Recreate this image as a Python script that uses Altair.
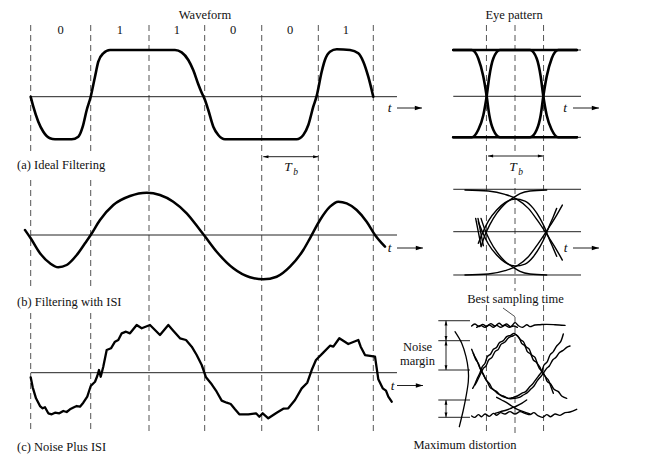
import altair as alt
import pandas as pd

# ---------------- data: time in bit periods (Tb), amplitude in signal levels ----------------
bits = ["0", "1", "1", "0", "0", "1"]
bit_edges = [0.0, 1.051, 2.072, 3.047, 4.046, 5.037, 6.0]

# (a) ideal filtering
wave_a_t = [0, 0.046, 0.133, 0.221, 0.338, 0.426, 0.718, 0.834, 0.911, 0.981, 1.051, 1.126, 1.184,
            1.271, 1.389, 2.527, 2.644, 2.760, 2.848, 2.930, 2.991, 3.047, 3.110, 3.198, 3.285, 3.403,
            4.658, 4.774, 4.862, 4.949, 5.005, 5.096, 5.153, 5.241, 5.359, 5.592, 5.737, 5.825, 5.912, 6.0]
wave_a_v = [0, -0.227, -0.568, -0.795, -0.945, -0.968, -0.968, -0.909, -0.682, -0.302, 0, 0.455, 0.795,
            0.986, 1.061, 1.061, 1.009, 0.834, 0.60, 0.30, 0.10, -0.06, -0.302, -0.682, -0.870, -0.968,
            -0.968, -0.870, -0.643, -0.227, 0, 0.568, 0.834, 1.023, 1.077, 1.061, 0.986, 0.795, 0.455, 0]

# (b) filtering with ISI
wave_b_t = [-0.100, 0, 0.163, 0.338, 0.483, 0.630, 0.806, 0.951, 1.051, 1.214, 1.447, 1.739, 2.032,
            2.264, 2.497, 2.732, 2.965, 3.047, 3.257, 3.548, 3.840, 4.074, 4.308, 4.541, 4.774, 4.891,
            5.067, 5.242, 5.387, 5.534, 5.709, 5.884, 6.030, 6.205]
wave_b_v = [0.114, -0.075, -0.416, -0.643, -0.734, -0.682, -0.455, -0.189, 0, 0.341, 0.682, 0.886, 0.961,
            0.909, 0.757, 0.493, 0.114, -0.023, -0.380, -0.757, -0.961, -1.007, -0.948, -0.720, -0.341,
            -0.075, 0.341, 0.643, 0.757, 0.720, 0.568, 0.302, 0, -0.266]

# (c) noise plus ISI
wave_c_t = [0, 0.035, 0.093, 0.163, 0.210, 0.250, 0.308, 0.368, 0.426, 0.501,
            0.571, 0.630, 0.688, 0.758, 0.806, 0.863, 0.921, 0.991, 1.051, 1.126,
            1.166, 1.196, 1.226, 1.271, 1.331, 1.406, 1.476, 1.534, 1.594, 1.669,
            1.739, 1.856, 1.944, 2.089, 2.264, 2.410, 2.497, 2.615, 2.720, 2.820,
            2.907, 2.995, 3.070, 3.170, 3.257, 3.345, 3.433, 3.503, 3.578, 3.653,
            3.811, 3.946, 4.004, 4.063, 4.161, 4.308, 4.424, 4.511, 4.629, 4.746,
            4.844, 4.921, 4.996, 5.124, 5.242, 5.300, 5.405, 5.562, 5.737, 5.779,
            5.855, 6.030, 6.088, 6.165, 6.222, 6.263, 6.322]
wave_c_v = [-0.105, -0.332, -0.582, -0.757, -0.809, -0.786, -0.923, -0.945, -0.909, -0.923,
            -0.870, -0.893, -0.832, -0.786, -0.757, -0.773, -0.682, -0.545, -0.302, -0.205,
            -0.075, 0.061, -0.091, 0.136, 0.516, 0.555, 0.705, 0.743, 0.895, 0.932,
            0.895, 1.084, 1.009, 1.084, 0.857, 1.084, 0.955, 0.782, 0.743, 0.591,
            0.402, 0.175, -0.105, -0.264, -0.432, -0.636, -0.682, -0.711, -0.832, -0.945,
            -0.945, -0.923, -1.0, -0.923, -1.036, -0.909, -0.818, -0.809, -0.620, -0.355,
            -0.227, 0.061, 0.289, 0.455, 0.614, 0.591, 0.782, 0.652, 0.743, 0.591,
            0.402, 0.364, -0.150, -0.355, -0.409, -0.545, -0.659]

# eye patterns: u = time from eye centre (Tb), amplitude
eye_span = [-1.081, 1.156]
eye_a_levels = [1.052, 0.0, -0.932]
eye_a_traces = {
    "flat_hi": ([-1.081, 1.083], [1.052, 1.052]),
    "flat_lo": ([-1.081, 1.083], [-0.932, -0.932]),
    "101": ([-1.081, -0.758, -0.643, -0.555, -0.496, -0.450, -0.380, -0.263, 0.263, 0.380, 0.450, 0.496, 0.555, 0.643, 0.758, 1.083],
            [1.052, 1.052, 0.86, 0.45, 0.0, -0.43, -0.76, -0.932, -0.932, -0.76, -0.43, 0.0, 0.45, 0.86, 1.052, 1.052]),
    "010": ([-1.081, -0.758, -0.643, -0.555, -0.496, -0.450, -0.380, -0.263, 0.263, 0.380, 0.450, 0.496, 0.555, 0.643, 0.758, 1.083],
            [-0.932, -0.932, -0.76, -0.43, 0.0, 0.45, 0.86, 1.052, 1.052, 0.86, 0.45, 0.0, -0.43, -0.76, -0.932, -0.932]),
}

eye_b_levels = [0.964, 0.0, -0.984]
eye_b_traces = {
    "U1": ([-0.876, -0.467, -0.175, 0.029, 0.234, 0.409, 0.584, 0.730, 0.829],
           [0.947, 0.924, 0.848, 0.742, 0.530, 0.227, -0.114, -0.417, -0.644]),
    "U2": ([-0.595, -0.525, -0.438, -0.321, -0.187, -0.029, 0.088, 0.263, 0.555],
           [-0.341, -0.076, 0.167, 0.417, 0.621, 0.773, 0.864, 0.924, 0.947]),
    "U3": ([-0.642, -0.572, -0.467, -0.321, -0.175, 0, 0.175, 0.321, 0.438, 0.525, 0.595, 0.671, 0.730],
           [-0.265, -0.038, 0.242, 0.492, 0.659, 0.742, 0.697, 0.530, 0.303, 0.076, -0.152, -0.379, -0.56]),
    "L1": ([-0.876, -0.467, -0.175, 0.029, 0.234, 0.409, 0.584, 0.730, 0.829],
           [-0.985, -0.962, -0.886, -0.780, -0.568, -0.265, 0.076, 0.379, 0.606]),
    "L2": ([-0.595, -0.525, -0.438, -0.321, -0.187, -0.029, 0.088, 0.263, 0.555],
           [0.303, 0.038, -0.205, -0.455, -0.659, -0.811, -0.902, -0.962, -0.985]),
    "L3": ([-0.642, -0.572, -0.467, -0.321, -0.175, 0, 0.175, 0.321, 0.438, 0.525, 0.595, 0.671, 0.730],
           [0.227, 0.0, -0.280, -0.530, -0.697, -0.780, -0.735, -0.568, -0.341, -0.114, 0.114, 0.341, 0.53]),
    "S1": ([-0.689, -0.595], [0.303, -0.318]),
    "S2": ([-0.648, -0.555], [0.303, -0.318]),
}

eye_c_traces = {
    "top1": ([-0.759, -0.701, -0.630, -0.566, -0.496, -0.426, -0.350, -0.280, -0.216, -0.146, -0.076, 0, 0.058,
              0.134, 0.204, 0.263, 0.350, 0.438, 0.555, 0.701, 0.876],
             [1.0, 1.045, 0.985, 1.038, 0.992, 1.053, 1.0, 1.061, 1.008, 1.045, 0.985, 1.076, 1.008,
              0.970, 1.030, 0.985, 1.023, 1.030, 1.038, 1.030, 1.015]),
    "top2": ([-0.671, -0.601, -0.525, -0.450, -0.379, -0.321, -0.251, -0.175, -0.099, -0.029, 0.041],
             [0.970, 1.015, 0.970, 1.023, 0.970, 1.015, 0.970, 1.015, 0.970, 1.0, 0.970]),
    "bot1": ([-0.759, -0.701, -0.642, -0.584, -0.525, -0.450, -0.379, -0.321, -0.251, -0.175, -0.088, 0, 0.088,
              0.175, 0.263, 0.333, 0.409, 0.485, 0.555, 0.625, 0.701, 0.788, 0.876, 0.963, 1.080],
             [-1.045, -1.076, -1.015, -1.061, -1.0, -1.053, -0.985, -1.030, -0.970, -1.0, -0.947, -1.0, -0.947,
              -0.985, -1.015, -0.970, -1.045, -1.076, -1.015, -1.061, -1.0, -1.030, -0.970, -0.955, -0.894]),
    "C1": ([-0.741, -0.701, -0.660, -0.613, -0.572, -0.525, -0.485, -0.426, -0.379, -0.321, -0.274, -0.204, -0.146,
            -0.076, -0.018, 0.041, 0.088, 0.146, 0.193, 0.251, 0.292, 0.350, 0.391, 0.438, 0.473, 0.525, 0.566,
            0.625, 0.683, 0.759, 0.817, 0.905],
           [-0.417, -0.318, -0.189, -0.061, 0.076, 0.152, 0.303, 0.364, 0.470, 0.515, 0.621, 0.667, 0.758,
            0.788, 0.833, 0.773, 0.697, 0.644, 0.530, 0.470, 0.341, 0.288, 0.152, 0.061, -0.061, -0.136, -0.265,
            -0.318, -0.439, -0.492, -0.591, -0.644]),
    "C3": ([-0.701, -0.660, -0.613, -0.555, -0.508, -0.461, -0.403, -0.350, -0.292, -0.245, -0.175, -0.117, -0.041,
            0.018, 0.076, 0.117, 0.175, 0.216, 0.274, 0.321, 0.379, 0.426, 0.485, 0.531, 0.584, 0.625, 0.671],
           [-0.341, -0.242, -0.114, 0.038, 0.091, 0.227, 0.288, 0.417, 0.470, 0.583, 0.636, 0.727, 0.773,
            0.803, 0.727, 0.606, 0.545, 0.417, 0.364, 0.227, 0.167, 0.038, -0.038, -0.152, -0.227, -0.364, -0.530]),
    "C2": ([-0.759, -0.718, -0.671, -0.625, -0.584, -0.537, -0.485, -0.438, -0.368, -0.292, -0.204, -0.117, -0.029,
            0.041, 0.117, 0.187, 0.251, 0.309, 0.368, 0.426, 0.467, 0.508, 0.566, 0.613, 0.671, 0.730, 0.800, 0.846],
           [0.470, 0.341, 0.227, 0.076, -0.038, -0.152, -0.265, -0.394, -0.455, -0.545, -0.591, -0.644, -0.621,
            -0.591, -0.530, -0.492, -0.394, -0.318, -0.212, -0.114, -0.038, 0.114, 0.189, 0.341, 0.417, 0.545, 0.644, 0.818]),
    "C4": ([-0.730, -0.689, -0.642, -0.601, -0.555, -0.508, -0.450, -0.391, -0.321, -0.251, -0.175, -0.088, 0,
            0.076, 0.146, 0.216, 0.274, 0.333, 0.391, 0.450, 0.496, 0.555, 0.601, 0.660, 0.718, 0.776, 0.835, 0.905, 0.963],
           [0.379, 0.242, 0.152, 0.015, -0.091, -0.227, -0.303, -0.439, -0.492, -0.576, -0.621, -0.652, -0.644,
            -0.621, -0.568, -0.515, -0.439, -0.364, -0.242, -0.152, -0.076, 0.038, 0.091, 0.227, 0.288, 0.394, 0.439, 0.515, 0.545]),
    "B3": ([-0.321, -0.234, -0.146, -0.058, 0.041, 0.146, 0.263],
           [-0.621, -0.682, -0.742, -0.818, -0.894, -0.947, -1.0]),
    "B4": ([-0.350, -0.251, -0.146, -0.058, 0.029, 0.117, 0.204],
           [-0.985, -0.947, -0.909, -0.864, -0.818, -0.758, -0.682]),
}
# "maximum distortion" arc and noise-margin levels (eye c)
arc_u = [-1.051, -0.933, -0.858, -0.818, -0.818, -0.858, -0.905, -0.975]
arc_v = [0.870, 0.607, 0.302, 0.0, -0.266, -0.607, -0.909, -1.289]
noise_levels = [1.12, 0.666, 0.0, -0.682, -1.075]

# ---------------- layout (page pixels -> data units) ----------------
W, H = 647, 449
BIT, AMP, T0 = 57.1, 44.0, 30.7


def X(px):
    return (px - T0) / BIT


def V(py):
    return (465 - py) / AMP


WAVE_V = {"a": V(96.7), "b": V(235.0), "c": V(372.7)}
EYE_T = X(515.0)
EYE_V = {"a": V(96.3), "b": V(231.7), "c": V(370.0)}

# ---------------- build tables ----------------
rows = []


def add(key, ts, vs, t0, v0, w, kind):
    assert len(ts) == len(vs), key
    for i, (t, v) in enumerate(zip(ts, vs)):
        rows.append(dict(id=key, i=i, x=t + t0, y=v + v0, w=w, kind=kind))


add("wa", wave_a_t, wave_a_v, 0, WAVE_V["a"], 2.6, "smooth")
add("wb", wave_b_t, wave_b_v, 0, WAVE_V["b"], 2.5, "smooth")
add("wc", wave_c_t, wave_c_v, 0, WAVE_V["c"], 2.3, "linear")
for k, (u, a) in eye_a_traces.items():
    add("ea_" + k, u, a, EYE_T, EYE_V["a"], 2.6, "smooth")
for k, (u, a) in eye_b_traces.items():
    add("eb_" + k, u, a, EYE_T, EYE_V["b"], 1.4, "smooth")
for k, (u, a) in eye_c_traces.items():
    add("ec_" + k, u, a, EYE_T, EYE_V["c"], 1.4, "wiggle")
add("arc", arc_u, arc_v, EYE_T, EYE_V["c"], 1.3, "wiggle")
lines_df = pd.DataFrame(rows)

# dashed bit-boundary lines
dash_rows = []
for j, e in enumerate(bit_edges):
    segs = [(25, 153), (180, 288), (313, 432)] if j < 2 else [(25, 432)]
    for a, b in segs:
        dash_rows.append(dict(x=e, y=V(a), y2=V(b)))
for u in [-0.5, 0.0, 0.5]:
    segs = [(25, 152), (178, 291), (317, 433)] if u == 0 else [(25, 291), (305, 433)]
    for a, b in segs:
        dash_rows.append(dict(x=EYE_T + u, y=V(a), y2=V(b)))
dash_df = pd.DataFrame(dash_rows)

# thin solid rules
rule_rows = []
for p in ["a", "b", "c"]:
    rule_rows.append(dict(x=X(30.7), x2=X(397), y=WAVE_V[p], y2=WAVE_V[p], w=1.0))
for lv in eye_a_levels:
    rule_rows.append(dict(x=EYE_T + eye_span[0], x2=EYE_T + eye_span[1], y=EYE_V["a"] + lv, y2=EYE_V["a"] + lv, w=1.0))
for lv in eye_b_levels:
    rule_rows.append(dict(x=EYE_T + eye_span[0], x2=EYE_T + eye_span[1], y=EYE_V["b"] + lv, y2=EYE_V["b"] + lv, w=1.0))
for lv in noise_levels:
    rule_rows.append(dict(x=X(438.3), x2=X(470), y=EYE_V["c"] + lv, y2=EYE_V["c"] + lv, w=1.0))
# leader to best sampling time
rule_rows.append(dict(x=EYE_T - 0.21, x2=EYE_T, y=EYE_V["c"] + 1.409, y2=EYE_V["c"] + 1.211, w=0.8))

# arrows (page px): x1, y1, x2, y2, head at start, head at end, head radius
arrows = [
    (397, 108, 422, 108, False, True, 3.6),
    (573, 108, 599, 108, False, True, 3.6),
    (397, 248, 423, 248, False, True, 3.6),
    (573, 248, 599, 248, False, True, 3.6),
    (397, 385.5, 423, 385.5, False, True, 3.6),
    (T0 + BIT * bit_edges[4] + 1.5, 156.7, T0 + BIT * bit_edges[5], 156.7, True, True, 2.6),
    (515 - 0.5 * BIT + 1.5, 156, 515 + 0.5 * BIT - 0.5, 156, True, True, 2.6),
]
ym = lambda lv: 370 - AMP * lv
arrows += [
    (446, ym(noise_levels[0]), 446, ym(noise_levels[1]), True, True, 2.4),
    (446, ym(noise_levels[1]), 446, ym(noise_levels[2]), True, True, 2.4),
    (446, ym(noise_levels[3]), 446, ym(noise_levels[4]), True, True, 2.4),
]
SHAPES = {
    "right": "M-1,-0.6L1,0L-1,0.6Z",
    "left": "M1,-0.6L-1,0L1,0.6Z",
    "up": "M-0.6,1L0,-1L0.6,1Z",
    "down": "M-0.6,-1L0,1L0.6,-1Z",
}
head_rows = []
for (x1, y1, x2, y2, hs, he, r) in arrows:
    rule_rows.append(dict(x=X(x1), x2=X(x2), y=V(y1), y2=V(y2), w=1.0))
    horiz = abs(y2 - y1) < 1e-6
    if he:
        if horiz:
            head_rows.append(dict(x=X(x2 - r), y=V(y2), shape=SHAPES["right"], size=(2 * r) ** 2))
        else:
            head_rows.append(dict(x=X(x2), y=V(y2 - r), shape=SHAPES["down"], size=(2 * r) ** 2))
    if hs:
        if horiz:
            head_rows.append(dict(x=X(x1 + r), y=V(y1), shape=SHAPES["left"], size=(2 * r) ** 2))
        else:
            head_rows.append(dict(x=X(x1), y=V(y1 + r), shape=SHAPES["up"], size=(2 * r) ** 2))
rule_df = pd.DataFrame(rule_rows)
head_df = pd.DataFrame(head_rows)

# texts
FONT = "Liberation Serif"
center_txt = [
    ("Waveform", X(205), V(15)),
    ("Eye pattern", X(514), V(15)),
    ("Best sampling time", X(515.5), V(298.5)),
    ("Noise", X(417.5), V(346.5)),
    ("margin", X(417.5), V(360.5)),
    ("Maximum distortion", X(465), V(444.5)),
]
for j, b in enumerate(bits):
    center_txt.append((b, (bit_edges[j] + bit_edges[j + 1]) / 2, V(30)))
center_df = pd.DataFrame(center_txt, columns=["text", "x", "y"])
left_df = pd.DataFrame([
    ("(a) Ideal Filtering", X(17), V(165)),
    ("(b) Filtering with ISI", X(17), V(301.5)),
    ("(c) Noise Plus ISI", X(17), V(446.5)),
], columns=["text", "x", "y"])
ital_df = pd.DataFrame([
    ("t", X(389.5), V(108)), ("t", X(565), V(108)), ("t", X(389.5), V(248)),
    ("t", X(565.5), V(248)), ("t", X(392.5), V(386)),
    ("T", X(288), V(167)), ("T", X(513), V(167)),
], columns=["text", "x", "y"])
sub_df = pd.DataFrame([("b", X(295.5), V(171.5)), ("b", X(520.5), V(171.5))], columns=["text", "x", "y"])

# ---------------- chart ----------------
xs = alt.Scale(domain=[X(8), X(655)], nice=False, zero=False)
ys = alt.Scale(domain=[V(457), V(8)], nice=False, zero=False)
ex = alt.X("x:Q", scale=xs, axis=None)
ey = alt.Y("y:Q", scale=ys, axis=None)

dashes = alt.Chart(dash_df).mark_rule(color="#555555", strokeWidth=1, strokeDash=[6, 4]).encode(
    x=ex, y=ey, y2="y2:Q")
rules = alt.Chart(rule_df).mark_rule(color="#222222").encode(
    x=ex, x2="x2:Q", y=ey, y2="y2:Q", strokeWidth=alt.StrokeWidth("w:Q", scale=None))


def line_layer(kind, interp):
    return alt.Chart(lines_df).transform_filter(alt.datum.kind == kind).mark_line(
        interpolate=interp, color="black", strokeCap="round", strokeJoin="round").encode(
        x=ex, y=ey, detail="id:N", order="i:Q",
        strokeWidth=alt.StrokeWidth("w:Q", scale=None))


heads = alt.Chart(head_df).mark_point(filled=True, color="black", opacity=1, strokeWidth=0).encode(
    x=ex, y=ey, shape=alt.Shape("shape:N", scale=None), size=alt.Size("size:Q", scale=None))

t_center = alt.Chart(center_df).mark_text(font=FONT, fontSize=12.5, color="#111111", align="center",
                                          baseline="middle").encode(x=ex, y=ey, text="text:N")
t_left = alt.Chart(left_df).mark_text(font=FONT, fontSize=12.5, color="#111111", align="left",
                                      baseline="middle").encode(x=ex, y=ey, text="text:N")
t_ital = alt.Chart(ital_df).mark_text(font=FONT, fontSize=13.5, fontStyle="italic", color="#111111",
                                      align="center", baseline="middle").encode(x=ex, y=ey, text="text:N")
t_sub = alt.Chart(sub_df).mark_text(font=FONT, fontSize=9.5, fontStyle="italic", color="#111111",
                                    align="center", baseline="middle").encode(x=ex, y=ey, text="text:N")

chart = alt.layer(
    dashes, rules,
    line_layer("smooth", "monotone"), line_layer("linear", "linear"), line_layer("wiggle", "cardinal"),
    heads, t_center, t_left, t_ital, t_sub,
).properties(
    width=W, height=H, padding=0, autosize=alt.AutoSizeParams(type="none"), background="white"
).configure_view(strokeWidth=0)

chart.save("out.html", embed_options={"renderer": "svg", "actions": False})
